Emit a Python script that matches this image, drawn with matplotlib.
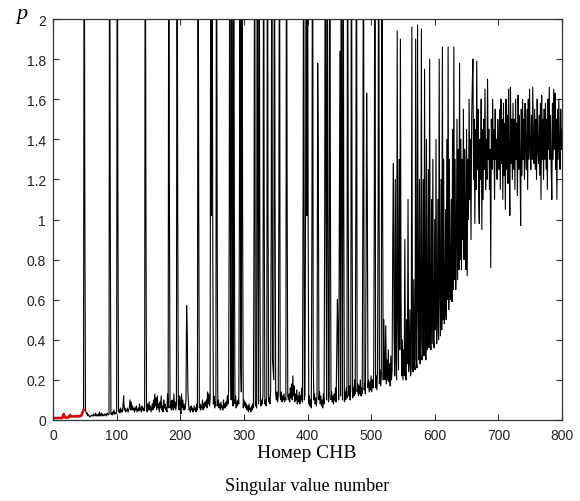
import numpy as np
import matplotlib
matplotlib.use("Agg")
import matplotlib.pyplot as plt

# ---- data ----
red_start = 1
red_vals = [
    0.01, 0.01, 0.01, 0.01, 0.01, 0.01, 0.01, 0.01, 0.01, 0.01,
    0.01, 0.01, 0.01, 0.01, 0.012, 0.025, 0.03, 0.02, 0.012, 0.012,
    0.012, 0.012, 0.012, 0.012, 0.015, 0.022, 0.025, 0.018, 0.018, 0.018,
    0.018, 0.018, 0.018, 0.018, 0.018, 0.018, 0.018, 0.02, 0.018, 0.018,
    0.018, 0.02, 0.02, 0.02, 0.025, 0.035, 0.04, 0.05,
]

black_start = 48
black_48_100 = [
    0.05, 3.0, 1.12,                                              # 48-50
    0.05, 0.04, 0.03, 0.035, 0.02, 0.025, 0.02, 0.015, 0.02, 0.02,  # 51-60
    0.025, 0.02, 0.02, 0.03, 0.025, 0.02, 0.035, 0.02, 0.025, 0.02,  # 61-70
    0.03, 0.02, 0.04, 0.02, 0.025, 0.035, 0.02, 0.03, 0.025, 0.02,   # 71-80
    0.03, 0.025, 0.03, 0.02, 0.035, 0.03, 0.025, 0.03, 3.0, 1.05,    # 81-90
    0.03, 0.035, 0.025, 0.04, 0.03, 0.05, 0.03, 0.035, 0.03, 0.045,  # 91-100
]
black_101_200 = [
    3.0, 1.08, 0.04, 0.05, 0.035, 0.06, 0.04, 0.05, 0.04, 0.07,
    0.12, 0.05, 0.06, 0.04, 0.05, 0.045, 0.06, 0.04, 0.05, 0.06,
    0.1, 0.05, 0.09, 0.05, 0.07, 0.05, 0.06, 0.04, 0.06, 0.05,
    0.07, 0.04, 0.05, 0.06, 0.045, 0.08, 0.05, 0.06, 0.04, 0.07,
    0.05, 0.06, 0.045, 0.05, 3.0, 1.1, 0.06, 0.04, 0.08, 0.05,
    0.09, 0.05, 0.07, 0.04, 0.06, 0.08, 0.05, 0.1, 0.06, 0.13,
    0.07, 0.11, 0.05, 0.12, 0.06, 0.08, 0.04, 0.09, 0.06, 0.12,
    0.05, 0.07, 0.04, 0.1, 0.06, 0.08, 0.05, 0.06, 0.04, 0.13,
    0.06, 3.0, 1.05, 0.06, 0.09, 0.05, 0.1, 0.07, 0.05, 0.13,
    0.06, 0.09, 0.05, 0.08, 3.0, 1.08, 0.07, 0.05, 0.12, 0.09,
]
black_201_300 = [
    0.03, 0.13, 0.06, 0.1, 0.05, 0.08, 0.05, 0.06, 0.1, 0.57,
    0.43, 0.14, 0.08, 0.05, 0.06, 0.04, 0.07, 0.05, 0.06, 0.04,
    0.05, 0.07, 0.05, 0.06, 0.04, 0.08, 0.05, 3.0, 1.1, 0.06,
    0.08, 0.05, 0.07, 0.06, 0.1, 0.05, 0.08, 0.06, 0.09, 0.07,
    0.1, 0.06, 0.14, 0.08, 0.13, 0.07, 0.1, 3.0, 1.02, 3.0,
    1.03, 0.08, 0.12, 0.06, 0.09, 0.07, 3.0, 1.02, 0.07, 0.1,
    0.06, 0.08, 0.05, 0.09, 0.06, 0.07, 0.05, 0.1, 0.06, 0.08,
    0.06, 0.09, 0.07, 0.12, 0.08, 0.15, 1.03, 3.0, 0.62, 0.1,
    3.0, 1.08, 0.07, 3.0, 1.1, 0.08, 0.12, 0.06, 0.09, 0.07,
    0.1, 0.08, 1.03, 3.0, 0.28, 0.14, 3.0, 1.05, 0.06, 0.1,
]
black_301_400 = [
    0.07, 0.09, 0.06, 0.08, 0.05, 0.07, 0.04, 0.08, 0.05, 0.06,
    0.04, 0.07, 0.05, 0.08, 0.06, 1.05, 3.0, 0.07, 0.09, 0.06,
    3.0, 1.12, 0.08, 3.0, 1.04, 0.09, 0.07, 0.1, 0.08, 0.13,
    3.0, 1.05, 0.08, 0.1, 0.07, 0.12, 3.0, 1.04, 0.09, 0.11,
    0.08, 0.14, 1.05, 3.0, 0.3, 0.25, 0.2, 3.0, 1.1, 0.13,
    0.1, 0.14, 0.09, 0.12, 1.06, 3.0, 0.12, 0.1, 0.14, 0.09,
    0.12, 0.1, 0.13, 0.09, 0.11, 0.1, 3.0, 1.1, 0.12, 0.1,
    0.13, 0.09, 0.16, 0.11, 0.18, 0.1, 0.22, 0.12, 0.17, 0.09,
    0.13, 0.1, 0.15, 0.08, 0.12, 0.09, 0.14, 0.08, 0.12, 0.1,
    0.16, 0.09, 1.05, 3.0, 0.1, 0.13, 1.06, 3.0, 1.02, 3.0,
]
black_401_500 = [
    1.0, 0.08, 0.12, 0.07, 0.1, 0.06, 1.05, 3.0, 0.3, 0.1,
    0.13, 0.08, 0.11, 0.07, 0.12, 1.78, 1.32, 0.1, 0.14, 0.08,
    0.12, 0.07, 0.1, 0.06, 0.13, 0.08, 1.02, 3.0, 1.05, 0.1,
    3.0, 1.08, 0.09, 0.12, 3.0, 1.1, 0.1, 0.14, 0.09, 0.12,
    0.08, 0.13, 0.1, 0.16, 0.09, 0.35, 0.6, 0.43, 0.1, 1.0,
    1.84, 0.12, 3.0, 1.06, 0.1, 3.0, 1.1, 0.09, 0.14, 0.1,
    0.16, 0.11, 3.0, 1.1, 0.12, 0.17, 0.1, 0.15, 3.0, 1.12,
    0.11, 0.16, 0.12, 0.2, 0.13, 1.1, 3.0, 0.14, 0.18, 0.12,
    0.17, 0.13, 0.2, 0.12, 0.16, 0.13, 1.08, 3.0, 0.15, 0.18,
    0.13, 0.72, 1.63, 1.13, 0.16, 0.2, 0.14, 0.19, 0.15, 0.22,
]
black_501_600 = [
    0.14, 0.2, 0.16, 0.23, 1.1, 3.0, 0.16, 0.22, 0.15, 0.24,
    1.1, 3.0, 0.18, 0.25, 0.17, 0.22, 3.0, 1.14, 0.2, 0.5,
    0.25, 0.2, 0.47, 0.18, 0.3, 0.2, 0.35, 0.19, 0.28, 0.17,
    0.32, 0.2, 0.25, 0.9, 1.28, 0.45, 0.22, 1.2, 0.3, 0.2,
    1.94, 0.5, 0.25, 1.3, 0.35, 1.9, 0.6, 0.22, 0.4, 0.2,
    0.35, 0.22, 0.9, 0.25, 0.2, 0.5, 0.28, 1.1, 0.24, 0.3,
    0.55, 0.22, 0.26, 1.96, 0.3, 0.24, 0.7, 0.28, 0.25, 1.9,
    0.3, 0.26, 1.97, 0.55, 0.3, 1.2, 0.28, 0.4, 1.95, 0.3,
    0.35, 1.2, 0.32, 1.75, 0.6, 0.3, 1.4, 0.35, 0.5, 1.25,
    0.36, 1.8, 0.4, 0.35, 1.1, 0.38, 1.3, 0.4, 0.36, 1.0,
]
black_601_700 = [
    0.45, 1.4, 0.38, 0.5, 1.1, 0.4, 1.8, 0.6, 0.42, 1.2,
    0.45, 1.86, 0.5, 1.3, 0.48, 0.55, 1.05, 0.5, 1.4, 0.6,
    1.86, 0.55, 1.3, 0.6, 0.7, 1.1, 0.59, 1.45, 0.65, 1.86,
    0.7, 1.3, 0.65, 0.9, 1.5, 0.7, 1.35, 0.75, 1.78, 0.8,
    1.4, 0.75, 1.3, 0.9, 1.55, 0.8, 1.35, 1.0, 0.75, 1.45,
    0.72, 1.3, 1.0, 1.6, 1.1, 1.4, 0.9, 1.5, 1.67, 1.8,
    1.2, 1.5, 0.98, 1.45, 1.15, 1.79, 1.25, 1.55, 1.1, 0.98,
    1.4, 1.2, 1.6, 0.95, 1.45, 1.1, 1.5, 1.25, 1.65, 1.15,
    1.4, 1.2, 1.7, 1.3, 1.45, 1.15, 1.35, 0.76, 1.5, 1.25,
    1.6, 1.3, 1.45, 1.1, 1.55, 1.3, 1.4, 1.2, 1.5, 1.35,
]
black_701_800 = [
    1.25, 1.55, 1.15, 1.6, 1.28, 1.5, 1.1, 1.58, 1.22, 1.48,
    1.05, 1.6, 1.25, 1.52, 1.18, 1.65, 1.3, 1.02, 1.66, 1.28,
    1.5, 1.2, 1.58, 1.25, 1.5, 1.15, 1.6, 1.3, 1.48, 1.12,
    1.62, 1.25, 1.52, 1.3, 0.97, 1.55, 1.22, 1.6, 1.3, 1.5,
    1.2, 1.58, 1.35, 1.25, 1.55, 1.15, 1.6, 1.3, 1.65, 1.35,
    1.25, 1.52, 1.3, 1.66, 1.38, 1.28, 1.55, 1.25, 1.5, 1.2,
    1.6, 1.35, 1.28, 1.52, 1.22, 1.58, 1.1, 1.62, 1.3, 1.5,
    1.2, 1.55, 1.3, 1.58, 1.25, 1.5, 1.15, 1.6, 1.35, 1.66,
    1.3, 1.52, 1.25, 1.1, 1.58, 1.3, 1.65, 1.35, 1.63, 1.25,
    1.5, 1.1, 1.55, 1.3, 1.6, 1.35, 1.25, 1.55, 1.35, 1.45,
]

x_ticks = [0, 100, 200, 300, 400, 500, 600, 700, 800]
y_ticks = [0, 0.2, 0.4, 0.6, 0.8, 1.0, 1.2, 1.4, 1.6, 1.8, 2.0]
y_tick_labels = ["0", "0.2", "0.4", "0.6", "0.8", "1", "1.2", "1.4", "1.6", "1.8", "2"]
xlabel_ru = "Номер СНВ"
xlabel_en = "Singular value number"
ylabel = "p"

black_vals = (black_48_100 + black_101_200 + black_201_300 + black_301_400 +
              black_401_500 + black_501_600 + black_601_700 + black_701_800)

red_x = np.arange(red_start, red_start + len(red_vals))
black_x = np.arange(black_start, black_start + len(black_vals))

# ---- figure ----
fig = plt.figure(figsize=(5.8, 5.02), dpi=100)
ax = fig.add_axes([53 / 580, 1 - 421 / 502, (562 - 53) / 580, (421 - 20) / 502])

ax.plot(black_x, black_vals, color="black", lw=0.8)
ax.plot(red_x, red_vals, color="#e00000", lw=1.8)

ax.set_xlim(0, 800)
ax.set_ylim(0, 2)
ax.set_xticks(x_ticks)
ax.set_xticklabels([str(t) for t in x_ticks])
ax.set_yticks(y_ticks)
ax.set_yticklabels(y_tick_labels)
ax.tick_params(direction="in", top=True, right=True, length=4, width=0.8,
               color="#333333", labelsize=10, labelcolor="#222222")
ax.tick_params(axis="x", pad=6)
ax.tick_params(axis="y", pad=5)
for lab in ax.get_xticklabels() + ax.get_yticklabels():
    lab.set_family("Liberation Sans")
for sp in ax.spines.values():
    sp.set_linewidth(0.9)
    sp.set_color("#333333")

fig.text(307 / 580, 1 - 454 / 502, xlabel_ru, ha="center", va="center",
         family="Liberation Serif", fontsize=14)
fig.text(307 / 580, 1 - 487 / 502, xlabel_en, ha="center", va="center",
         family="Liberation Serif", fontsize=13)
fig.text(22 / 580, 1 - 14 / 502, ylabel, ha="center", va="center",
         family="Liberation Serif", style="italic", fontsize=16)

fig.savefig("out.png", dpi=100)
